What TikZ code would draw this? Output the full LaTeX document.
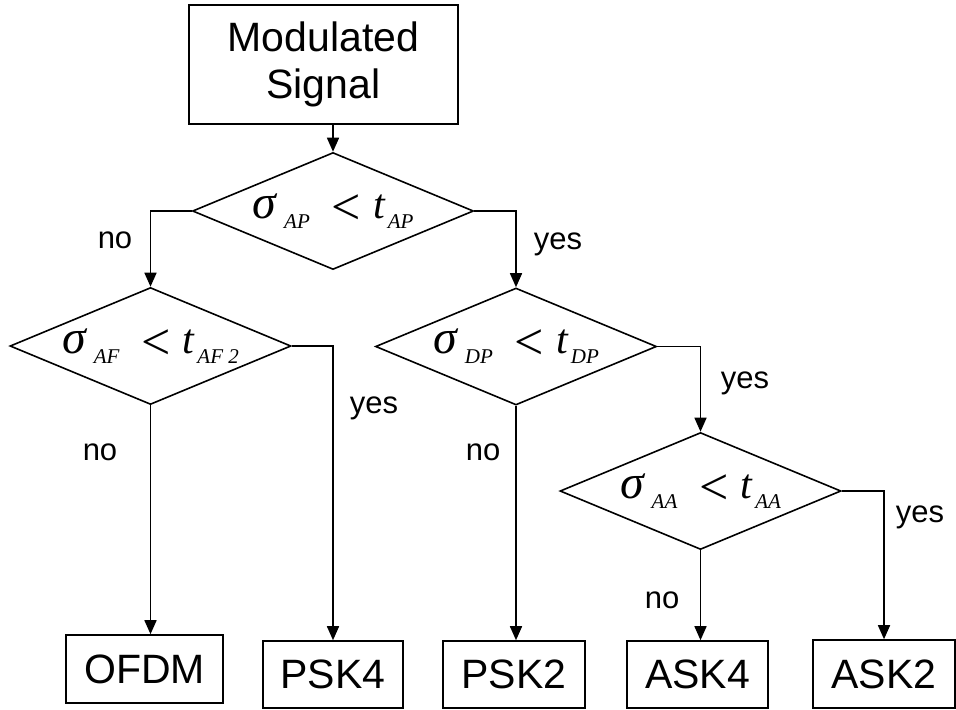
\documentclass[tikz,border=0pt]{standalone}
\usepackage{fontspec}
\setmainfont{Liberation Sans}
\newfontfamily\tms{Liberation Serif}
\usetikzlibrary{positioning, arrows.meta, shapes.geometric}

% sigma_{a} < t_{b}
\newcommand{\ineq}[2]{{\tms\fontsize{21}{24}\selectfont\itshape {\fontsize{24}{24}\selectfont σ}\hspace{4pt}\raisebox{-5pt}{\fontsize{10.5}{12}\selectfont #1}\hspace{11pt}\raisebox{-3pt}{\upshape\fontsize{26}{24}\selectfont <}\hspace{6pt}t\hspace{1.5pt}\raisebox{-5pt}{\fontsize{10.5}{12}\selectfont #2}}}

\begin{document}
\begin{tikzpicture}[
    x=0.5pt, y=-0.5pt,
    arrow/.style={-{Triangle[length=7pt, width=6pt]}, line width=0.8pt},
    box/.style={draw, line width=0.8pt, inner sep=0pt, align=center, font=\fontsize{20.5}{23.5}\selectfont},
    decision/.style={draw, diamond, aspect=2.4, inner sep=0pt, line width=0.8pt, minimum width=140.5pt, minimum height=58.5pt},
    answer/.style={font=\fontsize{15.5}{18}\selectfont}
]
    \useasboundingbox (0,0) rectangle (956,709);

    % Input
    \node[box, minimum width=134.5pt, minimum height=59.5pt] (signal) at (323.5,64.5) {Modulated\\Signal};

    % Decisions
    \node[decision] (dAP) at (333,211) {\ineq{AP}{AP}};
    \node[decision] (dAF) at (150.5,346) {\ineq{AF}{AF 2}};
    \node[decision] (dDP) at (516,346.5) {\ineq{DP}{DP}};
    \node[decision] (dAA) at (700.5,491) {\ineq{AA}{AA}};

    % Classes
    \node[box, minimum width=78.5pt, minimum height=34pt] (ofdm) at (144.5,669) {OFDM};
    \node[box, minimum width=70pt, minimum height=33.5pt] (psk4) at (333,674.5) {PSK4};
    \node[box, minimum width=71pt, minimum height=33.5pt] (psk2) at (514,674.5) {PSK2};
    \node[box, minimum width=70.5pt, minimum height=33.5pt] (ask4) at (697.5,674.5) {ASK4};
    \node[box, minimum width=71pt, minimum height=34pt] (ask2) at (884,674) {ASK2};

    % Connectors
    \draw[arrow] (signal.south -| dAP.north) -- (dAP.north);
    \draw[arrow] (dAP.west) -| (dAF.north);
    \draw[arrow] (dAP.east) -| (dDP.north);
    \draw[arrow] (dAF.east) -| (psk4.north);
    \draw[arrow] (dAF.south) -- (dAF.south |- ofdm.north);
    \draw[arrow] (dDP.south) -- (dDP.south |- psk2.north);
    \draw[arrow] (dDP.east) -| (dAA.north);
    \draw[arrow] (dAA.south) -- (dAA.south |- ask4.north);
    \draw[arrow] (dAA.east) -| (ask2.north);

    % Branch labels
    \node[answer] (noAP) at (115,240) {no};
    \node[answer] (yesAP) at (558,244) {yes};
    \node[answer] (noAF) at (100,452) {no};
    \node[answer] (yesAF) at (374,408) {yes};
    \node[answer] (noDP) at (483,452) {no};
    \node[answer] (yesDP) at (745,383) {yes};
    \node[answer] (noAA) at (662,600) {no};
    \node[answer] (yesAA) at (920,517) {yes};

\end{tikzpicture}
\end{document}
